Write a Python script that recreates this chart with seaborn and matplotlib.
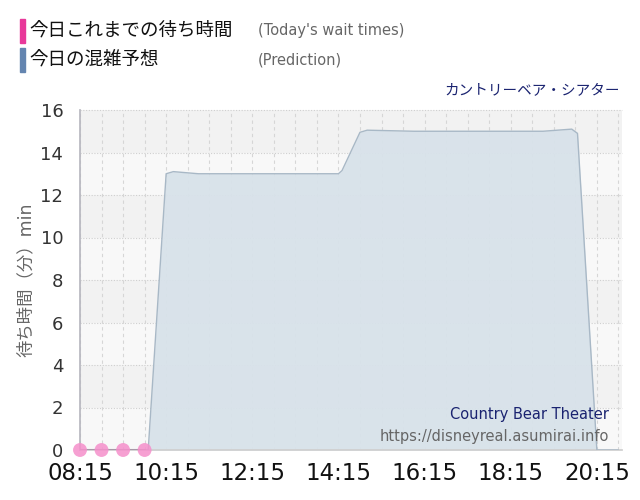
import matplotlib
matplotlib.use("Agg")
import matplotlib.pyplot as plt
import seaborn as sns
import numpy as np
import pandas as pd

# ---- data ----
pred_times = ["08:15", "08:45", "09:15", "09:45", "09:50", "10:15", "10:25", "11:00", "12:00", "13:00",
              "14:00", "14:15", "14:20", "14:45", "14:55", "16:00", "17:00", "18:00", "19:00",
              "19:40", "19:48", "20:15", "20:45"]
pred_values = [0, 0, 0, 0, 0, 13, 13.1, 13, 13, 13, 13, 13, 13.15, 14.95, 15.05, 15, 15, 15, 15,
               15.1, 14.9, 0, 0]
actual_times = ["08:15", "08:45", "09:15", "09:45"]
actual_values = [0, 0, 0, 0]
xtick_labels = ["08:15", "10:15", "12:15", "14:15", "16:15", "18:15", "20:15"]
yticks = [0, 2, 4, 6, 8, 10, 12, 14, 16]


def to_h(t):
    h, m = t.split(":")
    return int(h) + int(m) / 60


pred = pd.DataFrame({"t": [to_h(t) for t in pred_times], "v": pred_values})
act = pd.DataFrame({"t": [to_h(t) for t in actual_times], "v": actual_values})

sns.set_theme(style="white")
plt.rcParams["font.family"] = ["DejaVu Sans", "Noto Sans CJK JP"]

fig = plt.figure(figsize=(6.4, 5.0), dpi=100)
ax = fig.add_axes([80 / 640, 50 / 500, 542 / 640, 340 / 500])

xmin, xmax = to_h("08:15"), to_h("20:50")
ax.set_xlim(xmin, xmax)
ax.set_ylim(0, 16)

# background bands
for i, y0 in enumerate(range(0, 16, 2)):
    ax.axhspan(y0, y0 + 2, color="#f8f8f8" if i % 2 == 0 else "#f2f2f2", zorder=0, lw=0)

# grid
for y in yticks[1:]:
    ax.axhline(y, color="#cfcfcf", lw=0.8, ls=(0, (1, 1.5)), zorder=1, clip_on=False)
t = xmin
while t < xmax:
    ax.axvline(t, color="#d6d6d6", lw=0.8, ls=(0, (3, 3)), zorder=1)
    t += 0.5

# prediction area
ax.fill_between(pred["t"], pred["v"], 0, color="#d8e2ea", alpha=0.95, zorder=2, lw=0)
sns.lineplot(data=pred, x="t", y="v", ax=ax, color="#a8b8c6", lw=1.0, zorder=3)

# actual wait times
sns.lineplot(data=act, x="t", y="v", ax=ax, color="#a898a8", lw=1.5, zorder=4)
sns.scatterplot(data=act, x="t", y="v", ax=ax, color="#f58fcb", s=100, edgecolor="none",
                alpha=0.85, zorder=5, clip_on=False)

# axes styling
xt = [to_h(x) for x in xtick_labels]
ax.set_xticks(xt)
ax.set_xticklabels(xtick_labels, fontsize=16.5, color="#111111")
ax.set_yticks(yticks)
ax.set_yticklabels([str(y) for y in yticks], fontsize=13, color="#333333")
ax.tick_params(axis="both", which="both", length=8, color="#dddddd", width=1)
ax.tick_params(axis="y", pad=4)
ax.tick_params(axis="x", pad=1)
for s in ["top", "right"]:
    ax.spines[s].set_visible(False)
ax.spines["left"].set_color("#b8b8c0")
ax.spines["bottom"].set_color("#cfcfcf")
ax.set_xlabel("")
ax.set_ylabel("待ち時間（分）min", fontsize=12.5, color="#666666", labelpad=4)

# legend header
fig.patches.append(plt.Rectangle((20 / 640, 1 - 43 / 500), 5 / 640, 24 / 500,
                                 transform=fig.transFigure, color="#e8399a"))
fig.patches.append(plt.Rectangle((20 / 640, 1 - 72 / 500), 5 / 640, 24 / 500,
                                 transform=fig.transFigure, color="#6485b0"))
fig.text(29 / 640, 1 - 31 / 500, "今日これまでの待ち時間", fontsize=13.3, color="#111111",
         va="center", family=["Noto Sans CJK JP"])
fig.text(29 / 640, 1 - 60 / 500, "今日の混雑予想", fontsize=13.3, color="#111111",
         va="center", family=["Noto Sans CJK JP"])
fig.text(258 / 640, 1 - 31 / 500, "(Today's wait times)", fontsize=10.5, color="#666666",
         va="center")
fig.text(258 / 640, 1 - 60 / 500, "(Prediction)", fontsize=10.5, color="#666666", va="center")
fig.text(620 / 640, 1 - 90 / 500, "カントリーベア・シアター", fontsize=10.5, color="#1a2370",
         ha="right", va="center", family=["Noto Sans CJK JP"])

ax.text(609 / 640, 1 - 415 / 500, "Country Bear Theater", fontsize=10.5, color="#1a2370",
        ha="right", va="center", transform=fig.transFigure, zorder=6)
ax.text(609 / 640, 1 - 436 / 500, "https://disneyreal.asumirai.info", fontsize=10.5,
        color="#666666", ha="right", va="center", transform=fig.transFigure, zorder=6)

fig.savefig("out.png", dpi=100, facecolor="white")
